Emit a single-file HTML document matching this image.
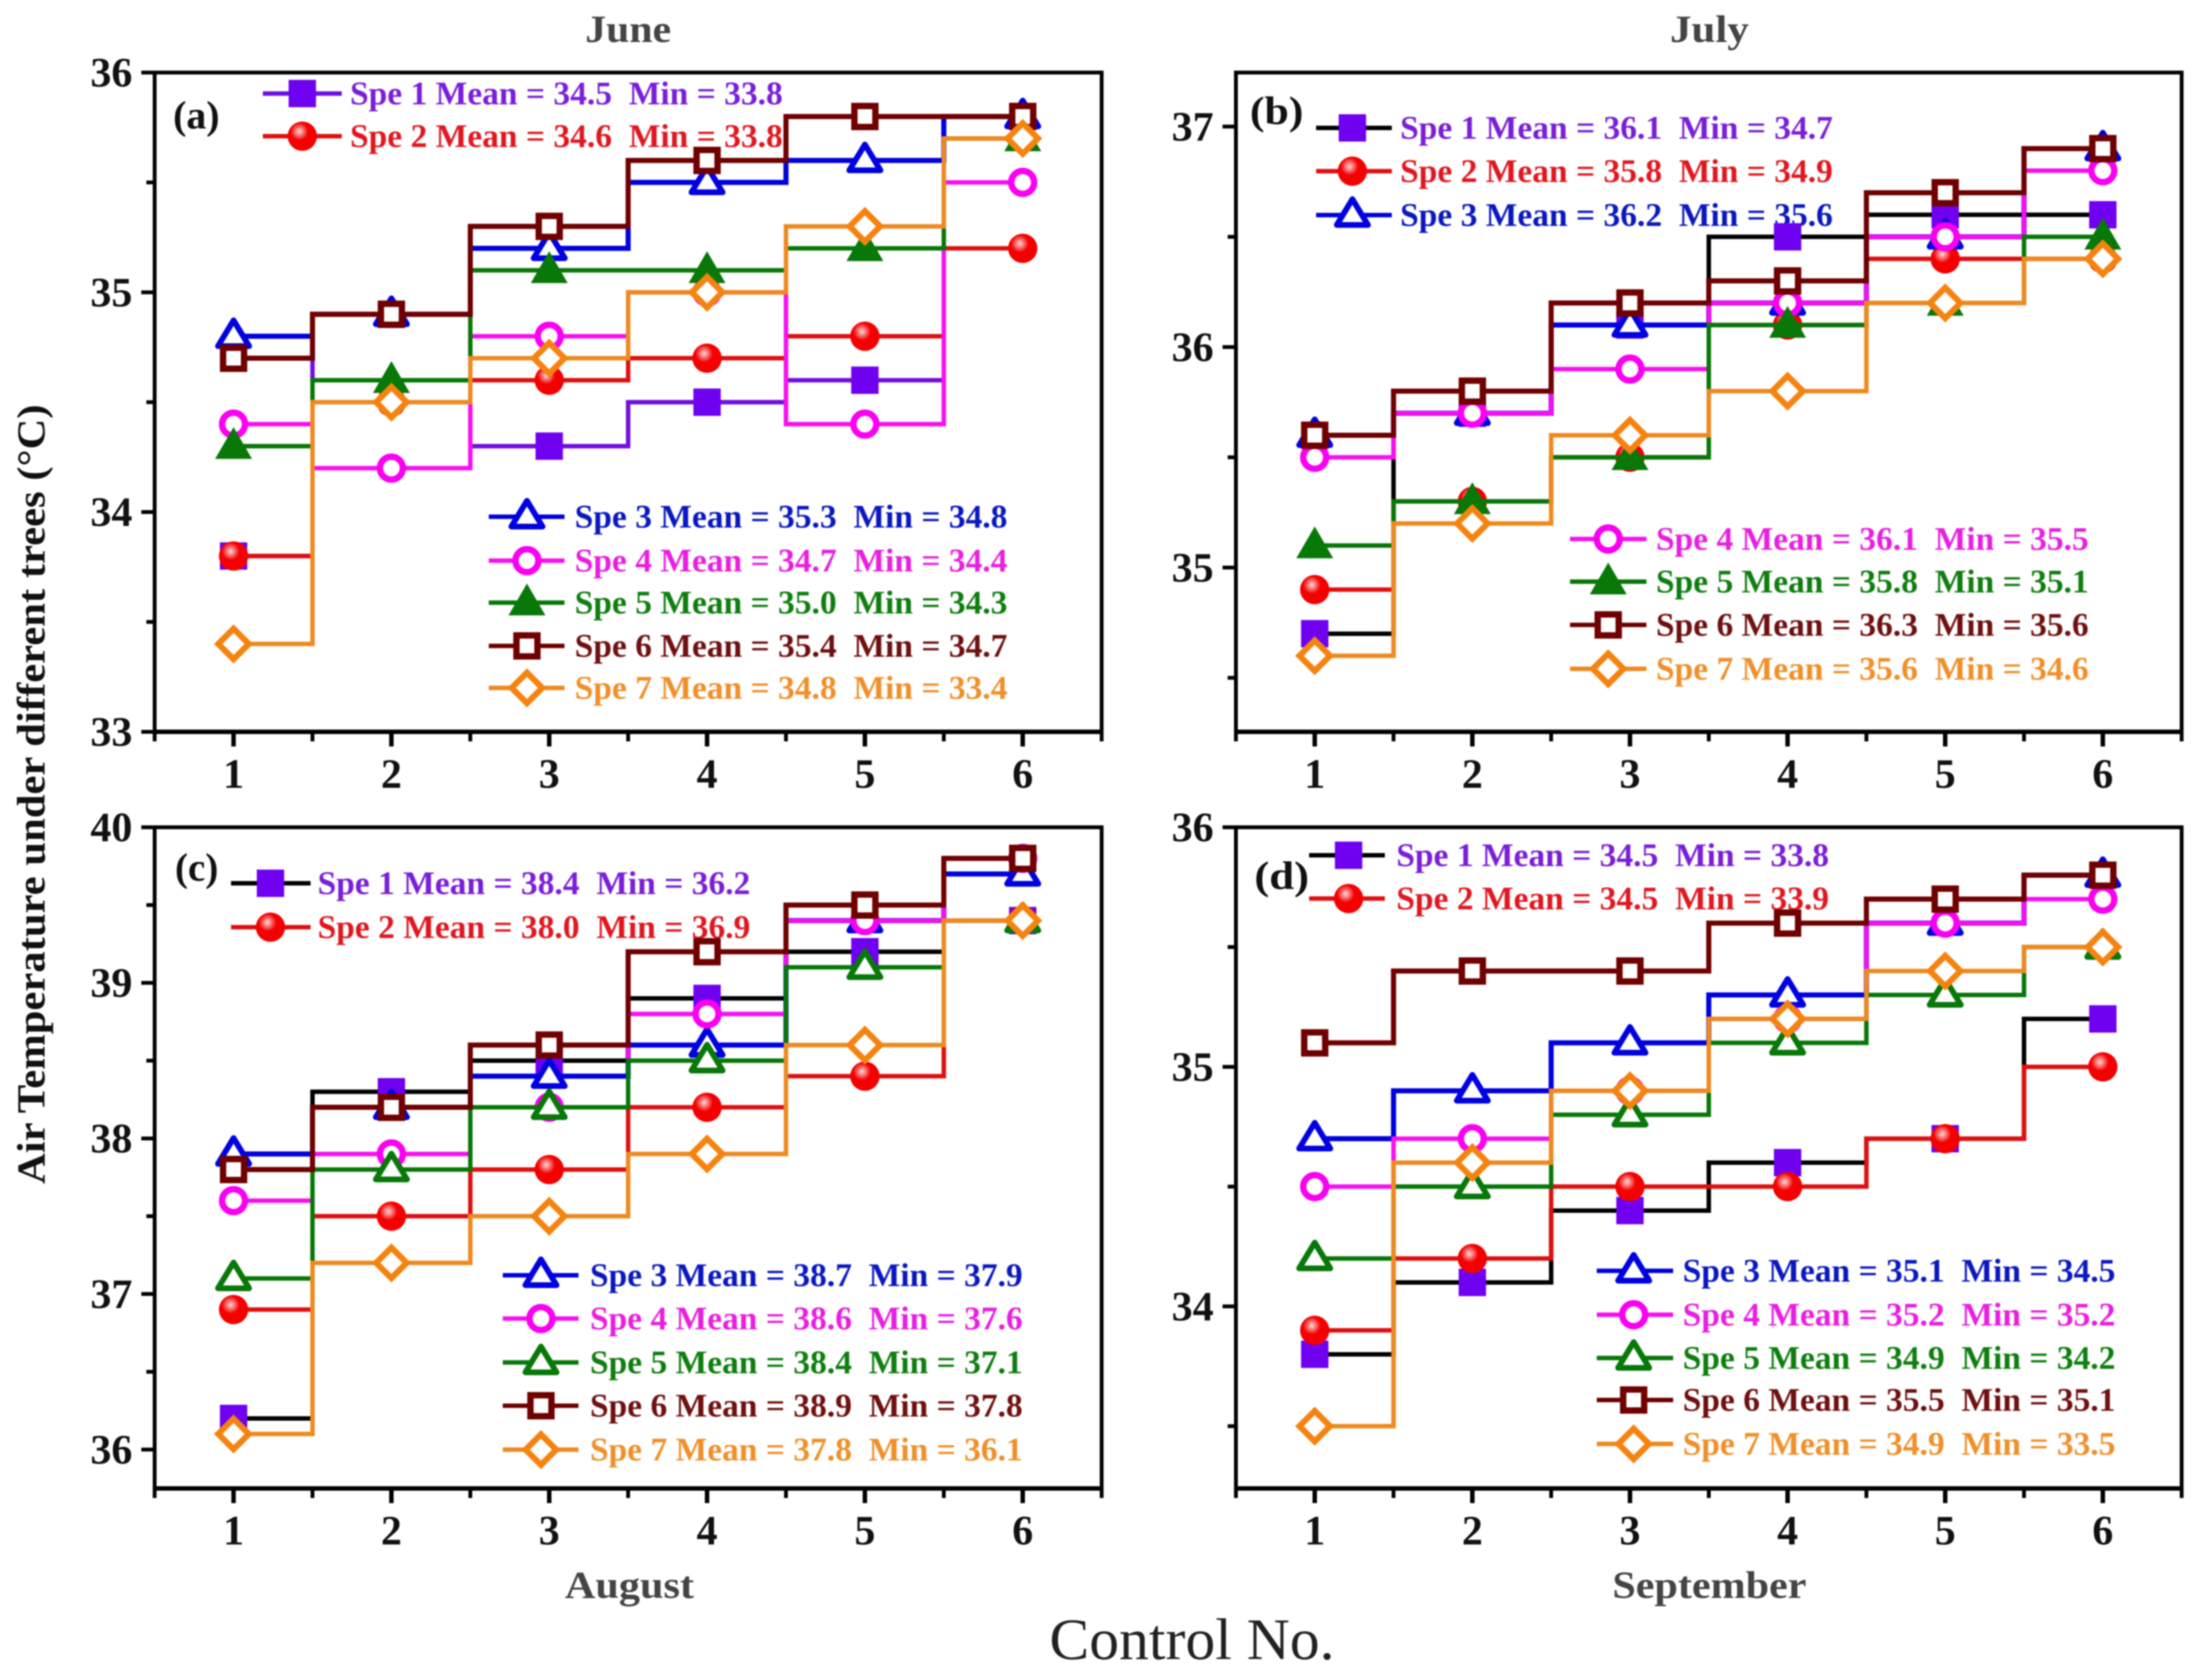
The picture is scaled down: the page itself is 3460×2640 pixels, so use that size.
<!DOCTYPE html>
<html lang="en">
<head>
<meta charset="utf-8">
<title>Air temperature under different trees</title>
<style>
html,body{margin:0;padding:0;background:#fff;}
#figure{display:block;width:3460px;height:2640px;filter:blur(1px);font-family:"Liberation Serif",serif;font-weight:bold;}
#figure text{white-space:pre;}
</style>
</head>
<body>
<svg id="figure" xmlns="http://www.w3.org/2000/svg" width="3460" height="2640" viewBox="0 0 3460 2640">
  <defs>
    <radialGradient id="ball" cx="0.4" cy="0.34" r="0.3">
      <stop offset="0" stop-color="#ffd8d8"/>
      <stop offset="1" stop-color="#f40000"/>
    </radialGradient>
  </defs>
  <rect width="3460" height="2640" fill="#fff"/>
  <text x="987" y="66" font-size="60" fill="#444" text-anchor="middle" textLength="135" lengthAdjust="spacingAndGlyphs">June</text>
  <text x="2686" y="66" font-size="60" fill="#444" text-anchor="middle" textLength="124" lengthAdjust="spacingAndGlyphs">July</text>
  <text x="989" y="2511" font-size="60" fill="#444" text-anchor="middle" textLength="203" lengthAdjust="spacingAndGlyphs">August</text>
  <text x="2686" y="2511" font-size="60" fill="#444" text-anchor="middle" textLength="305" lengthAdjust="spacingAndGlyphs">September</text>
  <text x="1873" y="2607" font-size="92" fill="#222" font-weight="normal" text-anchor="middle" textLength="448" lengthAdjust="spacingAndGlyphs">Control No.</text>
  <text transform="translate(70,1248) rotate(-90)" font-size="62" fill="#111" text-anchor="middle" textLength="1225" lengthAdjust="spacingAndGlyphs">Air Temperature under different trees (°C)</text>
  <g id="panels"></g>
</svg>
<script>
const categories = [1, 2, 3, 4, 5, 6];
const seriesNames = ['Spe 1', 'Spe 2', 'Spe 3', 'Spe 4', 'Spe 5', 'Spe 6', 'Spe 7'];

const juneSpe1 = [33.8, 34.9, 34.3, 34.5, 34.6, 35.8];
const juneSpe2 = [33.8, 34.5, 34.6, 34.7, 34.8, 35.2];
const juneSpe3 = [34.8, 34.9, 35.2, 35.5, 35.6, 35.8];
const juneSpe4 = [34.4, 34.2, 34.8, 35.0, 34.4, 35.5];
const juneSpe5 = [34.3, 34.6, 35.1, 35.1, 35.2, 35.7];
const juneSpe6 = [34.7, 34.9, 35.3, 35.6, 35.8, 35.8];
const juneSpe7 = [33.4, 34.5, 34.7, 35.0, 35.3, 35.7];
const juneMeans = ['34.5', '34.6', '35.3', '34.7', '35.0', '35.4', '34.8'];
const juneMins = ['33.8', '33.8', '34.8', '34.4', '34.3', '34.7', '33.4'];
const juneTicks = [33, 34, 35, 36];
const juneMinorTicks = [33.5, 34.5, 35.5];

const julySpe1 = [34.7, 35.7, 36.1, 36.5, 36.6, 36.6];
const julySpe2 = [34.9, 35.3, 35.5, 36.1, 36.4, 36.4];
const julySpe3 = [35.6, 35.7, 36.1, 36.2, 36.5, 36.9];
const julySpe4 = [35.5, 35.7, 35.9, 36.2, 36.5, 36.8];
const julySpe5 = [35.1, 35.3, 35.5, 36.1, 36.2, 36.5];
const julySpe6 = [35.6, 35.8, 36.2, 36.3, 36.7, 36.9];
const julySpe7 = [34.6, 35.2, 35.6, 35.8, 36.2, 36.4];
const julyMeans = ['36.1', '35.8', '36.2', '36.1', '35.8', '36.3', '35.6'];
const julyMins = ['34.7', '34.9', '35.6', '35.5', '35.1', '35.6', '34.6'];
const julyTicks = [35, 36, 37];
const julyMinorTicks = [34.5, 35.5, 36.5];

const augustSpe1 = [36.2, 38.3, 38.5, 38.9, 39.2, 39.4];
const augustSpe2 = [36.9, 37.5, 37.8, 38.2, 38.4, 39.4];
const augustSpe3 = [37.9, 38.2, 38.4, 38.6, 39.4, 39.7];
const augustSpe4 = [37.6, 37.9, 38.2, 38.8, 39.4, 39.8];
const augustSpe5 = [37.1, 37.8, 38.2, 38.5, 39.1, 39.4];
const augustSpe6 = [37.8, 38.2, 38.6, 39.2, 39.5, 39.8];
const augustSpe7 = [36.1, 37.2, 37.5, 37.9, 38.6, 39.4];
const augustMeans = ['38.4', '38.0', '38.7', '38.6', '38.4', '38.9', '37.8'];
const augustMins = ['36.2', '36.9', '37.9', '37.6', '37.1', '37.8', '36.1'];
const augustTicks = [36, 37, 38, 39, 40];
const augustMinorTicks = [36.5, 37.5, 38.5, 39.5];

const septemberSpe1 = [33.8, 34.1, 34.4, 34.6, 34.7, 35.2];
const septemberSpe2 = [33.9, 34.2, 34.5, 34.5, 34.7, 35.0];
const septemberSpe3 = [34.7, 34.9, 35.1, 35.3, 35.6, 35.8];
const septemberSpe4 = [34.5, 34.7, 34.9, 35.2, 35.6, 35.7];
const septemberSpe5 = [34.2, 34.5, 34.8, 35.1, 35.3, 35.5];
const septemberSpe6 = [35.1, 35.4, 35.4, 35.6, 35.7, 35.8];
const septemberSpe7 = [33.5, 34.6, 34.9, 35.2, 35.4, 35.5];
const septemberMeans = ['34.5', '34.5', '35.1', '35.2', '34.9', '35.5', '34.9'];
const septemberMins = ['33.8', '33.9', '34.5', '35.2', '34.2', '35.1', '33.5'];
const septemberTicks = [34, 35, 36];
const septemberMinorTicks = [33.5, 34.5, 35.5];

const NS = 'http://www.w3.org/2000/svg';
const root = document.getElementById('panels');

const palette = ['#7000f0', '#f00000', '#0000e0', '#f800f0', '#087808', '#700000', '#f5830f'];
const linePalette = ['#7010e0', '#e01010', '#0000e0', '#f810f0', '#087808', '#700000', '#ee8a20'];
const lineWidths = [7, 7, 8, 7, 7, 8, 7];
const textPalette = ['#7a1fd8', '#e01820', '#0a18c0', '#e820e0', '#0f7f0f', '#701010', '#f0902a'];

const panels = [
  { key: 'june', tag: '(a)', tagX: 272, tagY: 202, tagW: 73,
    left: 243, right: 1731, top: 114, bottom: 1150, yMin: 33, yMax: 36,
    series: [juneSpe1, juneSpe2, juneSpe3, juneSpe4, juneSpe5, juneSpe6, juneSpe7],
    means: juneMeans, mins: juneMins, ticks: juneTicks, minor: juneMinorTicks,
    spe1Line: '#7010e0', spe5Open: false,
    upper: { count: 2, h0: 413, h1: 537, m: 475, t: 550, rows: [147, 214] },
    lower: { h0: 768, h1: 887, m: 828, t: 903, rows: [812, 881, 947, 1015, 1081] } },
  { key: 'july', tag: '(b)', tagX: 1964, tagY: 195, tagW: 84,
    left: 1942, right: 3428, top: 114, bottom: 1150, yMin: 34.255, yMax: 37.245,
    series: [julySpe1, julySpe2, julySpe3, julySpe4, julySpe5, julySpe6, julySpe7],
    means: julyMeans, mins: julyMins, ticks: julyTicks, minor: julyMinorTicks,
    spe1Line: '#000', spe5Open: false,
    upper: { count: 3, h0: 2068, h1: 2187, m: 2125, t: 2200, rows: [201, 269, 338] },
    lower: { h0: 2467, h1: 2587, m: 2527, t: 2602, rows: [847, 914, 982, 1051] } },
  { key: 'august', tag: '(c)', tagX: 275, tagY: 1384, tagW: 68,
    left: 243, right: 1731, top: 1300, bottom: 2339, yMin: 35.75, yMax: 40,
    series: [augustSpe1, augustSpe2, augustSpe3, augustSpe4, augustSpe5, augustSpe6, augustSpe7],
    means: augustMeans, mins: augustMins, ticks: augustTicks, minor: augustMinorTicks,
    spe1Line: '#000', spe5Open: true,
    upper: { count: 2, h0: 363, h1: 488, m: 425, t: 499, rows: [1388, 1457] },
    lower: { h0: 790, h1: 909, m: 850, t: 927, rows: [2004, 2072, 2141, 2209, 2278] } },
  { key: 'september', tag: '(d)', tagX: 1971, tagY: 1397, tagW: 86,
    left: 1942, right: 3428, top: 1300, bottom: 2339, yMin: 33.24, yMax: 36,
    series: [septemberSpe1, septemberSpe2, septemberSpe3, septemberSpe4, septemberSpe5, septemberSpe6, septemberSpe7],
    means: septemberMeans, mins: septemberMins, ticks: septemberTicks, minor: septemberMinorTicks,
    spe1Line: '#000', spe5Open: true,
    upper: { count: 2, h0: 2057, h1: 2176, m: 2119, t: 2194, rows: [1344, 1412] },
    lower: { h0: 2509, h1: 2629, m: 2567, t: 2644, rows: [1997, 2066, 2134, 2200, 2269] } }
];

function make(tag, attrs, parent) {
  const el = document.createElementNS(NS, tag);
  for (const k in attrs) el.setAttribute(k, attrs[k]);
  parent.appendChild(el);
  return el;
}

function drawMarker(parent, index, cx, cy, spe5Open, name) {
  const c = palette[index];
  let el;
  if (index === 0) {
    el = make('rect', { x: cx - 21.5, y: cy - 21.5, width: 43, height: 43, fill: c }, parent);
  } else if (index === 1) {
    el = make('circle', { cx: cx, cy: cy, r: 23, fill: 'url(#ball)' }, parent);
  } else if (index === 2 || (index === 4 && spe5Open)) {
    const pts = [cx, cy - 25, cx + 24.5, cy + 15.5, cx - 24.5, cy + 15.5].join(' ');
    el = make('polygon', { points: pts, fill: '#fff', stroke: c, 'stroke-width': 9, 'stroke-linejoin': 'round' }, parent);
  } else if (index === 3) {
    el = make('circle', { cx: cx, cy: cy, r: 18, fill: '#fff', stroke: c, 'stroke-width': 10 }, parent);
  } else if (index === 4) {
    const pts = [cx, cy - 30, cx + 29, cy + 20, cx - 29, cy + 20].join(' ');
    el = make('polygon', { points: pts, fill: c }, parent);
  } else if (index === 5) {
    el = make('rect', { x: cx - 16.5, y: cy - 16.5, width: 33, height: 33, fill: '#fff', stroke: c, 'stroke-width': 10 }, parent);
  } else {
    const pts = [cx, cy - 24, cx + 24, cy, cx, cy + 24, cx - 24, cy].join(' ');
    el = make('polygon', { points: pts, fill: '#fff', stroke: c, 'stroke-width': 9.5 }, parent);
  }
  
  
  return el;
}

function drawLegendRow(parent, p, slot, index, y) {
  const lineColor = index === 0 ? p.spe1Line : linePalette[index];
  const row = make('g', {}, parent);
  
  
  make('line', { x1: slot.h0, x2: slot.h1, y1: y, y2: y, stroke: lineColor, 'stroke-width': 7 }, row);
  drawMarker(row, index, slot.m, y, p.spe5Open, p.key + '-legend-marker-' + (index + 1));
  const label = make('text', { x: slot.t, y: y + 17, 'font-size': 52, fill: textPalette[index], textLength: 680, lengthAdjust: 'spacingAndGlyphs' }, row);
  
  
  label.textContent = seriesNames[index] + ' Mean = ' + p.means[index] + '  Min = ' + p.mins[index];
}

function drawPanel(p) {
  const g = make('g', {}, root);
  
  

  const xScale = v => p.left + (v - 0.5) / 6 * (p.right - p.left);
  const yScale = v => p.bottom - (v - p.yMin) / (p.yMax - p.yMin) * (p.bottom - p.top);

  const legend = make('g', {}, g);
  
  
  p.series.forEach((_, i) => {
    if (i < p.upper.count) drawLegendRow(legend, p, p.upper, i, p.upper.rows[i]);
    else drawLegendRow(legend, p, p.lower, i, p.lower.rows[i - p.upper.count]);
  });

  p.series.forEach((values, i) => {
    const sg = make('g', {}, g);
    
    
    let d = '';
    values.forEach((v, j) => {
      const x0 = j === 0 ? xScale(categories[j]) : xScale(categories[j] - 0.5);
      const x1 = j === values.length - 1 ? xScale(categories[j]) : xScale(categories[j] + 0.5);
      const y = yScale(v);
      d += (j === 0 ? 'M' : 'L') + x0 + ' ' + y + 'L' + x1 + ' ' + y;
    });
    const step = make('path', { d: d, fill: 'none', stroke: i === 0 ? p.spe1Line : linePalette[i], 'stroke-width': lineWidths[i] }, sg);
    
    
    values.forEach((v, j) => {
      drawMarker(sg, i, xScale(categories[j]), yScale(v), p.spe5Open, p.key + '-marker-' + (i + 1) + '-' + categories[j]);
    });
  });

  const frame = make('rect', { x: p.left, y: p.top, width: p.right - p.left, height: p.bottom - p.top, fill: 'none', stroke: '#000', 'stroke-width': 6 }, g);
  
  

  const xAxis = make('line', { x1: p.left - 3, x2: p.right + 3, y1: p.bottom, y2: p.bottom, stroke: '#000', 'stroke-width': 7 }, g);
  
  

  categories.forEach(c => {
    const t = make('line', { x1: xScale(c), x2: xScale(c), y1: p.bottom, y2: p.bottom + 23, stroke: '#000', 'stroke-width': 7 }, g);
    
    
    const label = make('text', { x: xScale(c), y: p.bottom + 88, 'font-size': 66, fill: '#111', 'text-anchor': 'middle' }, g);
    
    
    label.textContent = c;
  });
  [0.5].concat(categories.map(c => c + 0.5)).forEach(c => {
    const t = make('line', { x1: xScale(c), x2: xScale(c), y1: p.bottom, y2: p.bottom + 15, stroke: '#000', 'stroke-width': 6 }, g);
    
    
  });
  p.ticks.forEach(v => {
    const y = yScale(v);
    const t = make('line', { x1: p.left - 21, x2: p.left, y1: y, y2: y, stroke: '#000', 'stroke-width': 6 }, g);
    
    
    const label = make('text', { x: p.left - 35, y: y + 22, 'font-size': 66, fill: '#111', 'text-anchor': 'end' }, g);
    
    
    label.textContent = v;
  });
  p.minor.forEach(v => {
    const y = yScale(v);
    const t = make('line', { x1: p.left - 13, x2: p.left, y1: y, y2: y, stroke: '#000', 'stroke-width': 6 }, g);
    
    
  });

  const tag = make('text', { x: p.tagX, y: p.tagY, 'font-size': 62, fill: '#111', textLength: p.tagW, lengthAdjust: 'spacingAndGlyphs' }, g);
  
  
  tag.textContent = p.tag;
}

panels.forEach(drawPanel);
</script>
</body>
</html>
